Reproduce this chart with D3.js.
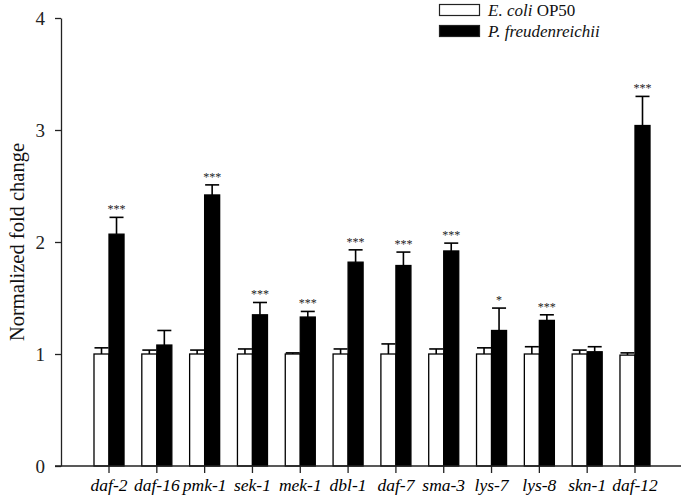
<!DOCTYPE html>
<html>
<head>
<meta charset="utf-8">
<script src="https://cdn.jsdelivr.net/npm/d3@7"></script>
<style>
  body { margin: 0; background: #fff; }
  svg { display: block; font-family: "Liberation Serif", "Times New Roman", serif; }
</style>
</head>
<body>
<div id="chart"></div>
<script>
/** --- DATA --- */
const genes = ['daf-2', 'daf-16', 'pmk-1', 'sek-1', 'mek-1', 'dbl-1', 'daf-7', 'sma-3', 'lys-7', 'lys-8', 'skn-1', 'daf-12'];
const series = ['E. coli OP50', 'P. freudenreichii'];
const ecoliMean = [1.0, 1.0, 1.0, 1.0, 1.0, 1.0, 1.0, 1.0, 1.0, 1.0, 1.0, 0.99];
const ecoliErr  = [0.055, 0.035, 0.035, 0.045, 0.01, 0.045, 0.09, 0.045, 0.055, 0.065, 0.035, 0.02];
const pfMean = [2.07, 1.08, 2.42, 1.35, 1.33, 1.82, 1.79, 1.92, 1.21, 1.30, 1.02, 3.04];
const pfErr  = [0.15, 0.13, 0.09, 0.11, 0.05, 0.11, 0.12, 0.07, 0.20, 0.05, 0.045, 0.26];
const stars  = ['***', '', '***', '***', '***', '***', '***', '***', '*', '***', '', '***'];
const yTicks = [0, 1, 2, 3, 4];

/** --- DIMENSIONS --- */
const width = 685;
const height = 503;
const axisLeft = 61;
const axisRight = 681;
const y0 = 466;
const yTop = 18;

const svg = d3.select('#chart')
  .append('svg')
  .attr('width', width)
  .attr('height', height);

/** --- SCALES --- */
const y = d3.scaleLinear()
  .domain([0, 4])
  .range([y0, yTop]);

const x = d3.scaleBand()
  .domain(genes)
  .range([85.1, 658.9])
  .paddingInner(0.372)
  .paddingOuter(0.186);

const xSub = d3.scaleBand()
  .domain(series)
  .range([0, x.bandwidth()]);

const rows = genes.map((g, i) => ({
  gene: g,
  bars: [
    { key: series[0], mean: ecoliMean[i], err: ecoliErr[i], fill: '#fff', star: '' },
    { key: series[1], mean: pfMean[i], err: pfErr[i], fill: '#000', star: stars[i] }
  ]
}));

/** --- BARS --- */
const groups = svg.selectAll('g.group')
  .data(rows)
  .join('g')
  .attr('class', 'group')
  .attr('transform', d => `translate(${x(d.gene)},0)`);

const bar = groups.selectAll('g.bar')
  .data(d => d.bars)
  .join('g')
  .attr('class', 'bar');

// error whisker (upper only)
bar.append('line')
  .attr('x1', d => xSub(d.key) + xSub.bandwidth() / 2)
  .attr('x2', d => xSub(d.key) + xSub.bandwidth() / 2)
  .attr('y1', d => y(d.mean))
  .attr('y2', d => y(d.mean + d.err))
  .attr('stroke', '#000')
  .attr('stroke-width', 1.6);

bar.append('line')
  .attr('x1', d => xSub(d.key) + 0.5)
  .attr('x2', d => xSub(d.key) + xSub.bandwidth() - 0.5)
  .attr('y1', d => y(d.mean + d.err))
  .attr('y2', d => y(d.mean + d.err))
  .attr('stroke', '#000')
  .attr('stroke-width', 1.6);

bar.append('rect')
  .attr('x', d => xSub(d.key))
  .attr('y', d => y(d.mean))
  .attr('width', xSub.bandwidth())
  .attr('height', d => y0 - y(d.mean))
  .attr('fill', d => d.fill)
  .attr('stroke', '#000')
  .attr('stroke-width', 1.3);

bar.filter(d => d.star)
  .append('text')
  .attr('x', d => xSub(d.key) + xSub.bandwidth() / 2)
  .attr('y', d => y(d.mean + d.err) - 4)
  .attr('text-anchor', 'middle')
  .attr('font-size', 12)
  .attr('fill', '#222')
  .text(d => d.star);

/** --- AXES --- */
const xAxis = svg.append('g')
  .attr('transform', `translate(0,${y0})`)
  .call(d3.axisBottom(x).tickSize(7).tickPadding(6));
xAxis.select('.domain').remove();
xAxis.selectAll('line').attr('stroke', '#222').attr('stroke-width', 1.3);
xAxis.selectAll('text')
  .attr('font-family', '"Liberation Serif", serif')
  .attr('font-style', 'italic')
  .attr('font-size', 17.5)
  .attr('fill', '#000');

svg.append('line')
  .attr('x1', axisLeft - 6)
  .attr('x2', axisRight)
  .attr('y1', y0)
  .attr('y2', y0)
  .attr('stroke', '#222')
  .attr('stroke-width', 1.3);

const yAxis = svg.append('g')
  .attr('transform', `translate(${axisLeft},0)`)
  .call(d3.axisLeft(y).tickValues(yTicks).tickFormat(d3.format('d')).tickSize(6).tickPadding(10).tickSizeOuter(0));
yAxis.select('.domain').attr('stroke', '#222').attr('stroke-width', 1.3);
yAxis.selectAll('line').attr('stroke', '#222').attr('stroke-width', 1.3);
yAxis.selectAll('text')
  .attr('font-family', '"Liberation Serif", serif')
  .attr('font-size', 19)
  .attr('fill', '#222');

svg.append('text')
  .attr('transform', `translate(24,242) rotate(-90)`)
  .attr('text-anchor', 'middle')
  .attr('font-size', 20.5)
  .attr('fill', '#111')
  .text('Normalized fold change');

/** --- LEGEND --- */
const legend = svg.append('g').attr('transform', 'translate(439,4)');
const legendItem = legend.selectAll('g')
  .data(series)
  .join('g')
  .attr('transform', (d, i) => `translate(0,${i * 21})`);

legendItem.append('rect')
  .attr('x', 0.5)
  .attr('y', 0.5)
  .attr('width', 40)
  .attr('height', 11)
  .attr('fill', (d, i) => i === 0 ? '#fff' : '#000')
  .attr('stroke', '#222')
  .attr('stroke-width', 1.2);

const legendText = legendItem.append('text')
  .attr('x', 49)
  .attr('y', 11.5)
  .attr('font-size', 17)
  .attr('fill', '#111');

legendText.filter((d, i) => i === 0).each(function() {
  const t = d3.select(this);
  t.append('tspan').attr('font-style', 'italic').text('E. coli');
  t.append('tspan').text(' OP50');
});
legendText.filter((d, i) => i === 1)
  .attr('font-style', 'italic')
  .text('P. freudenreichii');
</script>
</body>
</html>
